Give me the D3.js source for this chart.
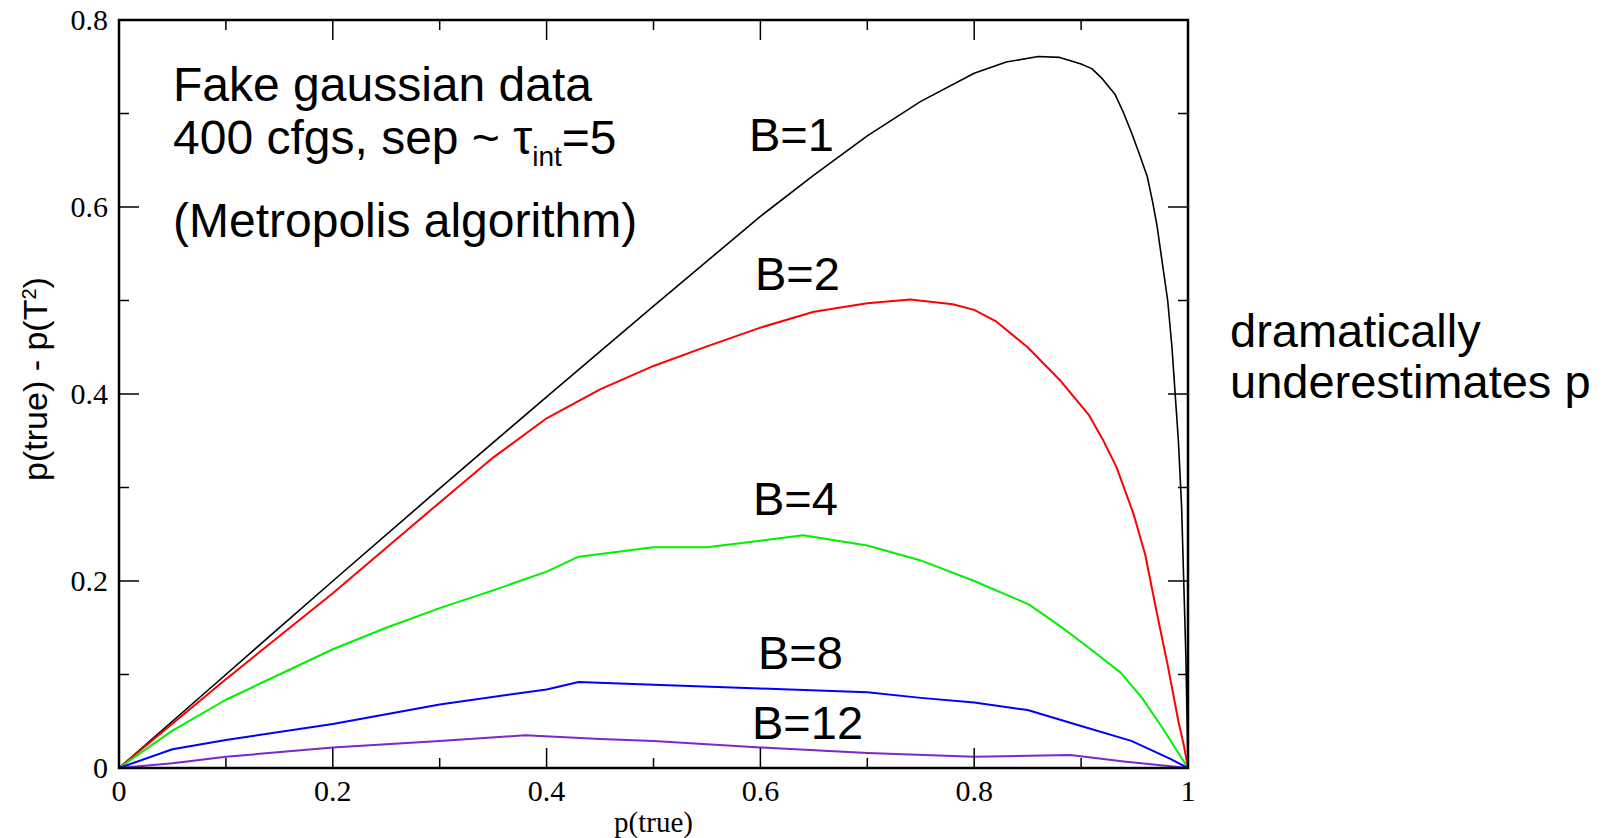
<!DOCTYPE html>
<html lang="en">
  <head>
    <meta charset="UTF-8" />
    <script src="https://d3js.org/d3.v7.min.js"></script>
    <title>p(true) - p(T2)</title>
    <style>
      body { margin: 0; background: #fff; }
    </style>
  </head>
  <body>
    <svg id="chart" width="1614" height="838"></svg>
  </body>
  <script>
    // values: [p(true), p(true) - p(T^2)]
    var blockB1 = [
      [0, 0], [0.1, 0.1], [0.2, 0.2], [0.3, 0.299], [0.4, 0.397], [0.5, 0.494],
      [0.6, 0.59], [0.65, 0.634], [0.7, 0.676], [0.75, 0.713], [0.8, 0.743],
      [0.83, 0.755], [0.86, 0.761], [0.88, 0.76], [0.9, 0.753], [0.91, 0.748],
      [0.92, 0.737], [0.932, 0.72], [0.94, 0.7], [0.947, 0.68], [0.955, 0.655],
      [0.962, 0.632], [0.967, 0.605], [0.971, 0.58], [0.976, 0.54], [0.981, 0.5],
      [0.985, 0.45], [0.988, 0.4], [0.991, 0.35], [0.994, 0.28], [0.996, 0.2],
      [0.998, 0.12], [1, 0]
    ];
    var blockB2 = [
      [0, 0], [0.1, 0.095], [0.2, 0.187], [0.3, 0.284], [0.35, 0.332], [0.4, 0.374],
      [0.45, 0.405], [0.5, 0.43], [0.55, 0.451], [0.6, 0.471], [0.65, 0.488],
      [0.7, 0.497], [0.74, 0.501], [0.78, 0.496], [0.8, 0.49], [0.82, 0.478],
      [0.85, 0.45], [0.88, 0.415], [0.907, 0.378], [0.92, 0.352], [0.933, 0.322],
      [0.949, 0.272], [0.96, 0.228], [0.971, 0.165], [0.981, 0.11], [0.991, 0.05],
      [0.996, 0.025], [1, 0]
    ];
    var blockB4 = [
      [0, 0], [0.05, 0.04], [0.1, 0.073], [0.15, 0.1], [0.2, 0.127], [0.25, 0.15],
      [0.3, 0.171], [0.35, 0.19], [0.4, 0.21], [0.43, 0.226], [0.5, 0.236],
      [0.55, 0.236], [0.6, 0.243], [0.64, 0.249], [0.7, 0.238], [0.75, 0.222],
      [0.8, 0.2], [0.851, 0.175], [0.88, 0.152], [0.909, 0.127], [0.937, 0.102],
      [0.957, 0.075], [0.976, 0.043], [0.99, 0.018], [1, 0]
    ];
    var blockB8 = [
      [0, 0], [0.05, 0.02], [0.1, 0.03], [0.2, 0.047], [0.3, 0.068], [0.4, 0.084],
      [0.43, 0.092], [0.5, 0.089], [0.6, 0.085], [0.7, 0.081], [0.75, 0.075],
      [0.8, 0.07], [0.85, 0.062], [0.9, 0.045], [0.947, 0.029], [0.983, 0.01], [1, 0]
    ];
    var blockB12 = [
      [0, 0], [0.05, 0.005], [0.1, 0.012], [0.2, 0.022], [0.3, 0.029], [0.38, 0.035],
      [0.45, 0.031], [0.5, 0.029], [0.6, 0.022], [0.7, 0.016], [0.8, 0.012],
      [0.89, 0.014], [0.94, 0.007], [1, 0]
    ];
    var seriesNames = ["B=1", "B=2", "B=4", "B=8", "B=12"];
    var seriesColors = ["#000000", "#ff0000", "#00f000", "#0000ff", "#7a28c8"];
    var xTicks = [0, 0.2, 0.4, 0.6, 0.8, 1];
    var yTicks = [0, 0.2, 0.4, 0.6, 0.8];

    var svg = d3.select("#chart");
    // plot box (don't call these "top" -- that's window.top)
    var pL = 119, pR = 1188, pT = 20, pB = 768;

    var x = d3.scaleLinear().domain([0, 1]).range([pL, pR]);
    var y = d3.scaleLinear().domain([0, 0.8]).range([pB, pT]);

    // curves
    var line = d3.line().x(d => x(d[0])).y(d => y(d[1]));
    var allSeries = [blockB1, blockB2, blockB4, blockB8, blockB12];
    svg.append("g")
      .selectAll("path")
      .data(allSeries)
      .enter()
      .append("path")
      .attr("d", line)
      .attr("fill", "none")
      .attr("stroke", (d, i) => seriesColors[i])
      .attr("stroke-width", (d, i) => (i == 0 ? 1.6 : 2))
      .attr("stroke-linejoin", "round");

    // frame with inward ticks on all four sides
    var minorX = d3.range(0, 1.0001, 0.1);
    var minorY = d3.range(0, 0.8001, 0.1);
    var frame = svg.append("g");
    var isMajor = v => Math.abs(v * 5 - Math.round(v * 5)) < 1e-6;

    frame.selectAll(".tb")
      .data(minorX)
      .enter()
      .append("path")
      .attr("d", d => {
        var len = isMajor(d) ? 20 : 10;
        return "M" + x(d) + "," + pB + "v" + -len + "M" + x(d) + "," + pT + "v" + len;
      })
      .attr("stroke", "#000")
      .attr("stroke-width", 1.5);

    frame.selectAll(".lr")
      .data(minorY)
      .enter()
      .append("path")
      .attr("d", d => {
        var len = isMajor(d) ? 20 : 10;
        return "M" + pL + "," + y(d) + "h" + len + "M" + pR + "," + y(d) + "h" + -len;
      })
      .attr("stroke", "#000")
      .attr("stroke-width", 1.5);

    frame.append("rect")
      .attr("x", pL)
      .attr("y", pT)
      .attr("width", pR - pL)
      .attr("height", pB - pT)
      .attr("fill", "none")
      .attr("stroke", "#000")
      .attr("stroke-width", 2.5);

    // tick labels
    var serif = "'Liberation Serif', 'Times New Roman', serif";
    svg.append("g")
      .selectAll("text")
      .data(xTicks)
      .enter()
      .append("text")
      .attr("x", d => x(d))
      .attr("y", pB + 33)
      .attr("text-anchor", "middle")
      .style("font-family", serif)
      .style("font-size", "30px")
      .text(d => d);

    svg.append("g")
      .selectAll("text")
      .data(yTicks)
      .enter()
      .append("text")
      .attr("x", pL - 11)
      .attr("y", d => y(d) + 10)
      .attr("text-anchor", "end")
      .style("font-family", serif)
      .style("font-size", "30px")
      .text(d => d);

    // axis titles
    svg.append("text")
      .attr("x", (pL + pR) / 2)
      .attr("y", 832)
      .attr("text-anchor", "middle")
      .style("font-family", serif)
      .style("font-size", "29px")
      .text("p(true)");

    var sans = "'Liberation Sans', Arial, sans-serif";
    var yTitle = svg.append("text")
      .attr("transform", "translate(47,379) rotate(-90)")
      .attr("text-anchor", "middle")
      .style("font-family", sans)
      .style("font-size", "34px");
    yTitle.append("tspan").text("p(true) - p(T");
    yTitle.append("tspan").attr("baseline-shift", "super").style("font-size", "20px").text("2");
    yTitle.append("tspan").text(")");

    // annotations
    var note = svg.append("g").style("font-family", sans).style("font-size", "48px").attr("fill", "#000");
    note.append("text").attr("x", 173).attr("y", 101).text("Fake gaussian data");
    var l2 = note.append("text").attr("x", 173).attr("y", 154);
    l2.append("tspan").text("400 cfgs, sep ~ τ");
    l2.append("tspan").attr("baseline-shift", "-12").style("font-size", "28px").text("int");
    l2.append("tspan").attr("baseline-shift", "0").text("=5");
    note.append("text").attr("x", 173).attr("y", 237).text("(Metropolis algorithm)");

    var labelPos = [[749, 151], [755, 290], [753, 515], [758, 669], [752, 739]];
    note.selectAll(".blab")
      .data(seriesNames)
      .enter()
      .append("text")
      .attr("x", (d, i) => labelPos[i][0])
      .attr("y", (d, i) => labelPos[i][1])
      .style("font-size", "47px")
      .text(d => d);

    note.append("text").attr("x", 1230).attr("y", 347).style("font-size", "47px").text("dramatically");
    note.append("text").attr("x", 1230).attr("y", 398).style("font-size", "47px").text("underestimates p");
  </script>
</html>
